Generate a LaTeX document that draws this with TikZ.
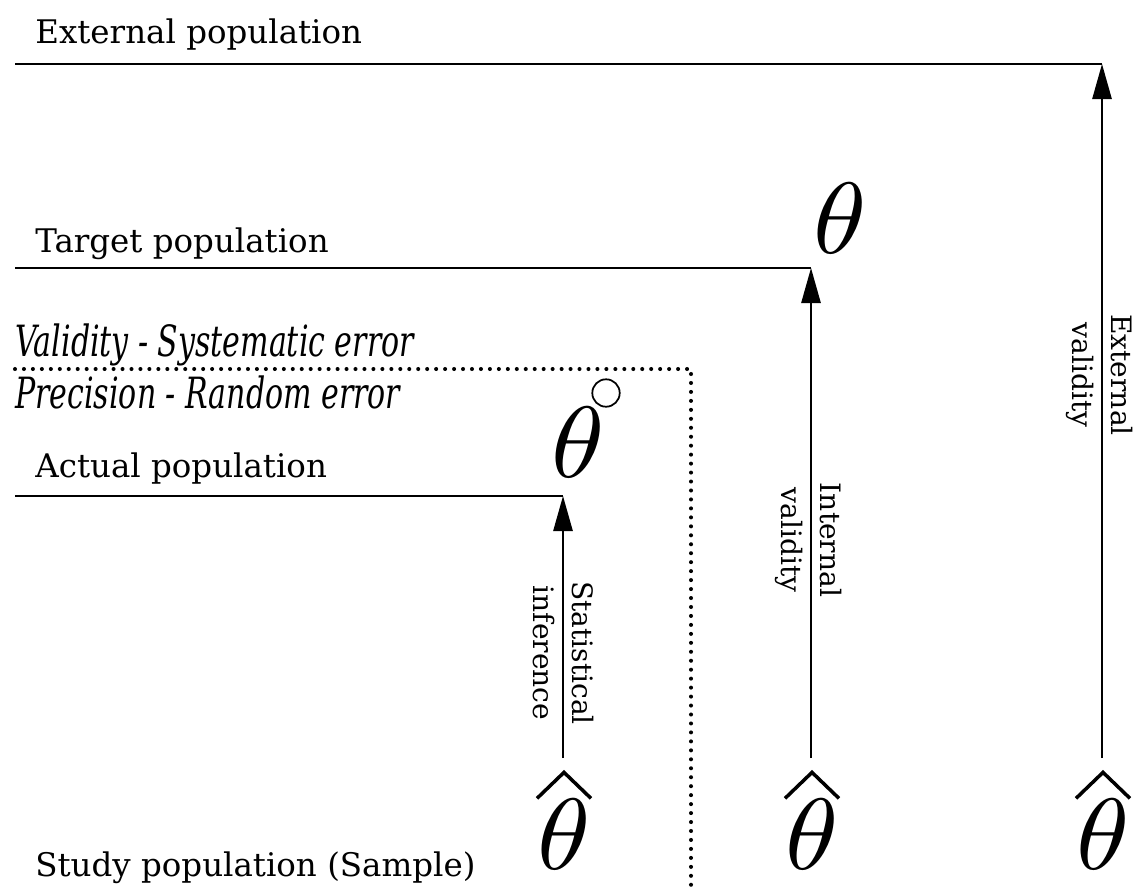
\documentclass[tikz,border=0pt]{standalone}
\usepackage{fontspec}
\setmainfont{DejaVu Serif}
\newfontfamily\condital{DejaVu Serif Condensed}[ItalicFont={DejaVu Serif Condensed Italic}]
\usetikzlibrary{arrows.meta}

\tikzset{
  x=0.02cm, y=-0.02cm,
  poplabel/.style={anchor=base west, inner sep=0pt, font=\fontsize{18.5}{22}\selectfont},
  errlabel/.style={anchor=base west, inner sep=0pt, xscale=0.775, font=\fontsize{24.5}{28}\selectfont\condital\itshape},
  popline/.style={line width=1.6pt},
  boundary/.style={line width=2.3pt, line cap=round, dash pattern=on 0pt off 5.1pt},
  inferarrow/.style={line width=1.1pt, -{Triangle[length=20pt, width=11pt]}},
  sidelabel/.style={anchor=base, inner sep=0pt, rotate=-90, font=\fontsize{16}{18}\selectfont},
  bigsym/.style={inner sep=0pt, anchor=base},
  hatstroke/.style={line width=2pt, miter limit=20},
  ring/.style={line width=1pt},
}
\newcommand{\bigmath}[1]{\scalebox{6.1}[5.76]{$#1$}}

\begin{document}
\begin{tikzpicture}
\useasboundingbox (0,0) rectangle (1138,890);

% population levels
\node[poplabel] (ext)   at (35,43)  {External population};
\node[poplabel] (tgt)   at (35,252) {Target population};
\node[poplabel] (act)   at (35,477) {Actual population};
\node[poplabel] (study) at (35,876) {Study population (Sample)};

% error types on either side of the boundary
\node[errlabel] (sys)  at (15,356) {Validity - Systematic error};
\node[errlabel] (rand) at (15,408) {Precision - Random error};

% parameters
\node[bigsym] (thtgt) at (840,253) {\bigmath{\theta}};
\node[bigsym] (thact) at (578,477) {\bigmath{\theta}};
\coordinate (ringc) at (606,393);
\draw[ring] (ringc) circle[radius=7.8pt];

% estimates: theta with a hat
\node[bigsym] (est1) at (564,869) {\bigmath{\theta}};
\node[bigsym] (est2) at (812,869) {\bigmath{\theta}};
\node[bigsym] (est3) at (1103,869) {\bigmath{\theta}};
\foreach \e in {est1,est2,est3}
  \draw[hatstroke] ([shift={(-27,0)}]\e.north) -- ([shift={(0,-26)}]\e.north)
                   -- ([shift={(27,0)}]\e.north);

% corners and ends of the levels
\coordinate (extL) at (15,64);   \coordinate (extC) at (1102,64);
\coordinate (tgtL) at (15,268);  \coordinate (tgtC) at (811,268);
\coordinate (actL) at (15,496);  \coordinate (actC) at (563,496);
\coordinate (s1) at (563,758);
\coordinate (s2) at (811,758);
\coordinate (s3) at (1102,758);

\draw[popline] (extL) -- (extC);
\draw[popline] (tgtL) -- (tgtC);
\draw[popline] (actL) -- (actC);

\draw[inferarrow] (s1) -- (actC);
\draw[inferarrow] (s2) -- (tgtC);
\draw[inferarrow] (s3) -- (extC);

% dotted boundary between validity and precision
\coordinate (bL) at (15,369);
\coordinate (bC) at (691,369);
\coordinate (bB) at (691,890);
\draw[boundary] (bL) -- (bC) -- (bB);

% arrow labels
\node[sidelabel] (lab1a) at (572,653) {Statistical};
\node[sidelabel] (lab1b) at (533,653) {inference};
\node[sidelabel] (lab2a) at (820,540) {Internal};
\node[sidelabel] (lab2b) at (781,540) {validity};
\node[sidelabel] (lab3a) at (1111,375) {External};
\node[sidelabel] (lab3b) at (1072,375) {validity};
\end{tikzpicture}
\end{document}
